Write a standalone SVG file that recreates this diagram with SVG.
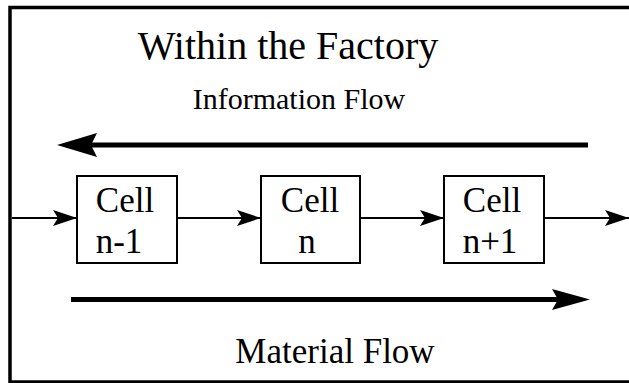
<svg xmlns="http://www.w3.org/2000/svg" width="629" height="383" viewBox="0 0 629 383">
<style>
text{font-family:"Liberation Serif","Times New Roman",serif;fill:#000;text-anchor:middle}
.box{fill:#fff;stroke:#000;stroke-width:2}
.thin{stroke:#000;stroke-width:2;fill:none}
.thick{stroke:#000;stroke-width:5;fill:none}
.cell{font-size:35px}
</style>
<defs>
<marker id="sm" markerUnits="userSpaceOnUse" markerWidth="26" markerHeight="16" refX="24" refY="8" orient="auto">
<path d="M0,0 L24,8 L0,16 L5,8 Z" fill="#000"/>
</marker>
</defs>
<rect x="10" y="7.5" width="640" height="374.5" fill="none" stroke="#000" stroke-width="3.5"/>
<text x="288" y="59" font-size="40">Within the Factory</text>
<text x="299" y="109" font-size="30">Information Flow</text>
<text x="335" y="363" font-size="35">Material Flow</text>
<g id="connectors">
<line class="thick" x1="588" y1="145" x2="90" y2="145"/>
<path d="M57,145 L97,133 L91,145 L97,157 Z" fill="#000"/>
<line class="thick" x1="71" y1="299.5" x2="560" y2="299.5"/>
<path d="M590,299.5 L552,289 L558,299.5 L552,310 Z" fill="#000"/>
<line class="thin" x1="12" y1="218" x2="77" y2="218" marker-end="url(#sm)"/>
<line class="thin" x1="177" y1="218" x2="261" y2="218" marker-end="url(#sm)"/>
<line class="thin" x1="360" y1="218" x2="444" y2="218" marker-end="url(#sm)"/>
<line class="thin" x1="544" y1="218" x2="629" y2="218" marker-end="url(#sm)"/>
</g>
<g id="cell-n-1">
<rect class="box" x="77" y="176" width="100" height="87"/>
<text class="cell" x="125" y="212">Cell</text>
<text class="cell" x="119" y="253">n-1</text>
</g>
<g id="cell-n">
<rect class="box" x="261" y="176" width="99" height="87"/>
<text class="cell" x="310" y="212">Cell</text>
<text class="cell" x="307" y="253">n</text>
</g>
<g id="cell-n1">
<rect class="box" x="444" y="176" width="100" height="87"/>
<text class="cell" x="492" y="212">Cell</text>
<text class="cell" x="490" y="253">n+1</text>
</g>
</svg>
